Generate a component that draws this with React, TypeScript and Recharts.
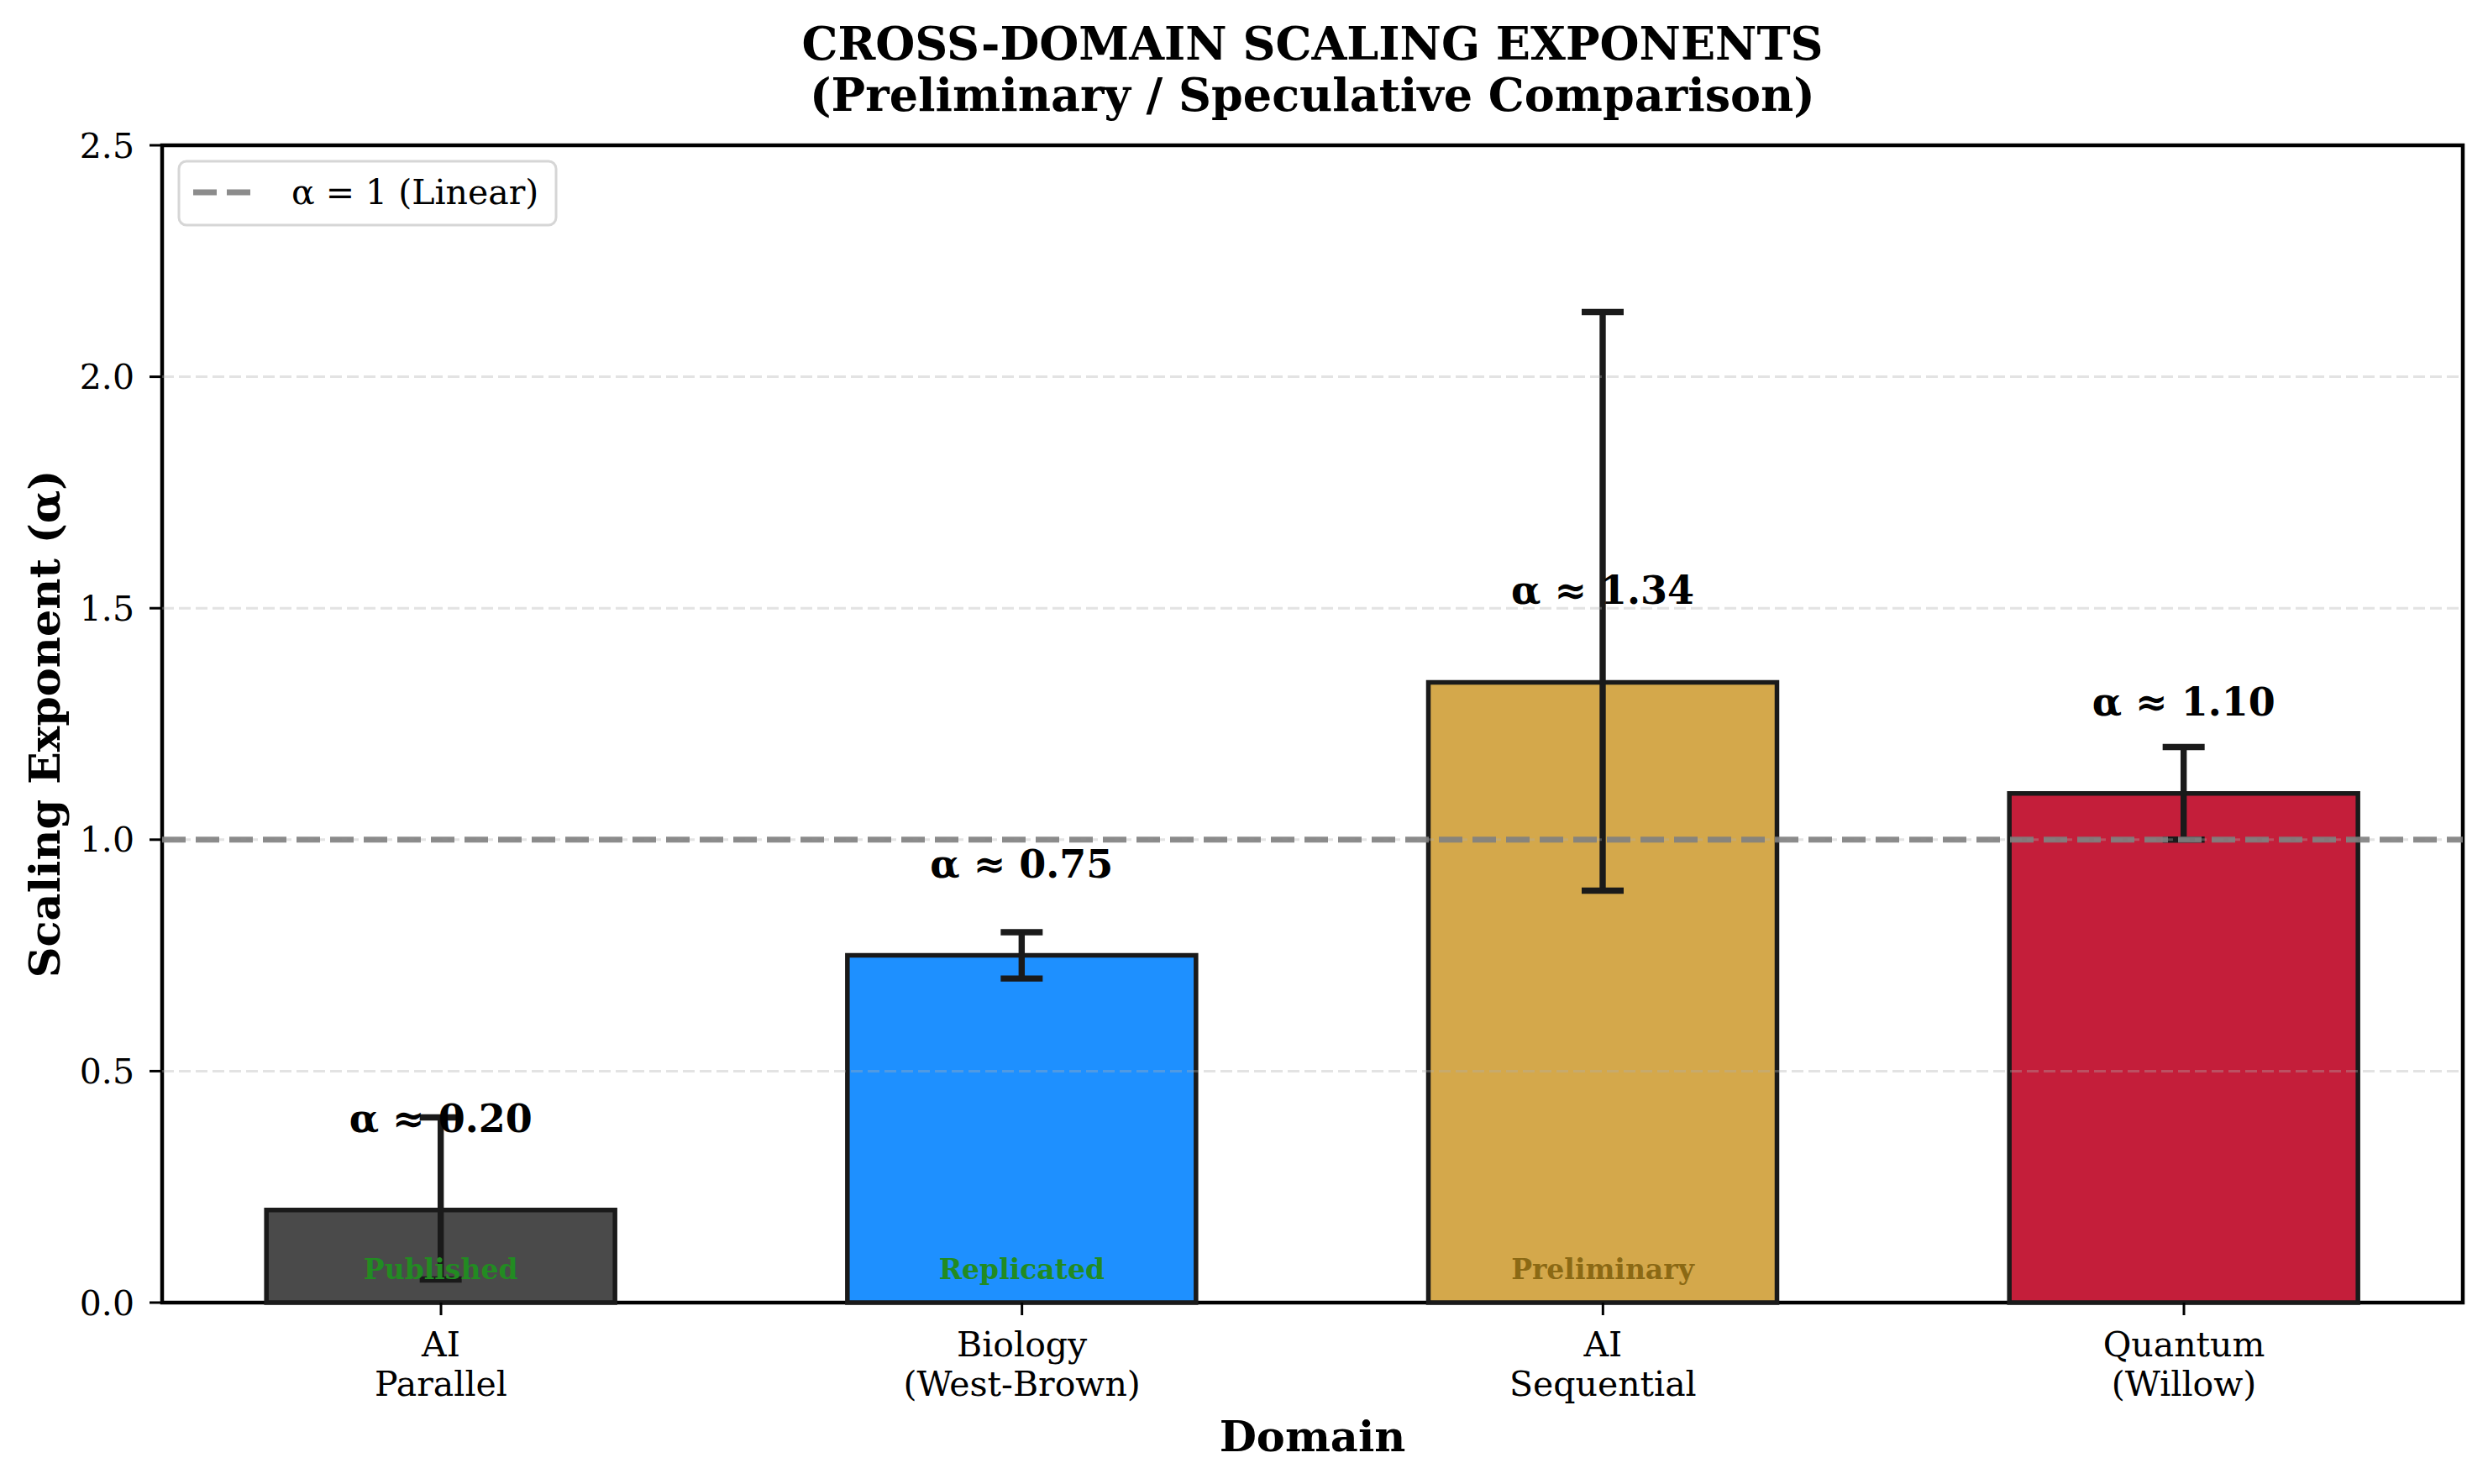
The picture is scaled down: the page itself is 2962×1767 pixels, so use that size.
import React from 'react';
import {
  BarChart,
  Bar,
  XAxis,
  YAxis,
  ErrorBar,
  LabelList,
  ReferenceLine,
  ReferenceArea,
  Cell,
} from 'recharts';

const categories = ['AI\nParallel', 'Biology\n(West-Brown)', 'AI\nSequential', 'Quantum\n(Willow)'];
const exponents = [0.2, 0.75, 1.34, 1.1];
const errLow = [0.15, 0.05, 0.45, 0.1];
const errHigh = [0.2, 0.05, 0.8, 0.1];
const statusLabels = ['Published', 'Replicated', 'Preliminary', ''];
const statusColors = ['#228B22', '#228B22', '#8B6914', '#228B22'];
const barColors = ['#4a4a4a', '#1E90FF', '#D4A84B', '#C41E3A'];
const yTicks = [0, 0.5, 1, 1.5, 2, 2.5];
const gridTicks = [0.5, 1, 1.5, 2];
const linearRef = 1;
const xTicks = [0, 1, 2, 3];
const titleLines = ['CROSS-DOMAIN SCALING EXPONENTS', '(Preliminary / Speculative Comparison)'];
const yLabel = 'Scaling Exponent (α)';
const xLabel = 'Domain';
const legendLabel = 'α = 1 (Linear)';

const data = categories.map((c, i) => ({
  x: i,
  name: c,
  value: exponents[i],
  err: [errLow[i], errHigh[i]],
}));

const FONT = 'DejaVu Serif';
const W = 2962;
const H = 1767;
const PL = 193;
const PR = 2932;
const PT = 173;
const PB = 1551;
const YAW = 60;
const XAH = 60;

const XTick = (props: any) => {
  const { x, payload } = props;
  const lines = categories[payload.value].split('\n');
  return (
    <g>
      {lines.map((l: string, k: number) => (
        <text
          key={k}
          x={x}
          y={PB + 64 + k * 47}
          textAnchor="middle"
          fontFamily={FONT}
          fontSize={41}
          fill="#000"
        >
          {l}
        </text>
      ))}
    </g>
  );
};

const ValueLabel = (p: any) => {
  const { x, y, width, value } = p;
  return (
    <text
      x={x + width / 2}
      y={y - 93}
      textAnchor="middle"
      fontFamily={FONT}
      fontWeight="bold"
      fontSize={46}
      fill="#000"
    >
      {`α ≈ ${Number(value).toFixed(2)}`}
    </text>
  );
};

const StatusLabel = (p: any) => {
  const { x, y, width, height, index } = p;
  const s = statusLabels[index];
  if (!s) return null;
  return (
    <text
      x={x + width / 2}
      y={y + height - 28}
      textAnchor="middle"
      fontFamily={FONT}
      fontWeight="bold"
      fontSize={33}
      fill={statusColors[index]}
    >
      {s}
    </text>
  );
};

export default function App() {
  return (
    <div style={{ position: 'absolute', left: 0, top: 0, width: W, height: H, background: '#fff' }}>
      <BarChart
        width={W}
        height={H}
        data={data}
        margin={{ top: PT, left: PL - YAW, right: W - PR, bottom: H - PB - XAH }}
      >
        <XAxis
          type="number"
          dataKey="x"
          domain={[-0.48, 3.48]}
          ticks={xTicks}
          height={XAH}
          axisLine={false}
          tickLine={{ stroke: '#000', strokeWidth: 3 }}
          tickSize={15}
          tickMargin={8}
          tick={<XTick />}
          interval={0}
          allowDataOverflow
        />
        <YAxis
          type="number"
          domain={[0, 2.5]}
          ticks={yTicks}
          width={YAW}
          axisLine={false}
          tickLine={{ stroke: '#000', strokeWidth: 3 }}
          tickSize={15}
          tickMargin={18}
          tickFormatter={(v: number) => v.toFixed(1)}
          tick={{ fontFamily: FONT, fontSize: 41, fill: '#000' }}
          interval={0}
        />
        <Bar
          dataKey="value"
          barSize={415}
          stroke="#1a1a1a"
          strokeWidth={5.5}
          isAnimationActive={false}
        >
          {data.map((d, i) => (
            <Cell key={i} fill={barColors[i]} />
          ))}
          <ErrorBar dataKey="err" direction="y" width={25} stroke="#1a1a1a" strokeWidth={7.4} />
          <LabelList dataKey="value" content={<ValueLabel />} />
          <LabelList dataKey="value" content={<StatusLabel />} />
        </Bar>
        {gridTicks.map((t) => (
          <ReferenceLine
            key={t}
            y={t}
            stroke="#b0b0b0"
            strokeOpacity={0.35}
            strokeWidth={3}
            strokeDasharray="14 6"
          />
        ))}
        <ReferenceLine
          y={linearRef}
          stroke="#808080"
          strokeOpacity={0.9}
          strokeWidth={7}
          strokeDasharray="28 12"
        />
        <ReferenceArea
          x1={-0.48}
          x2={3.48}
          y1={0}
          y2={2.5}
          fill="none"
          fillOpacity={0}
          stroke="#000"
          strokeWidth={4.5}
          strokeOpacity={1}
        />
      </BarChart>
      <svg
        width={W}
        height={H}
        style={{ position: 'absolute', left: 0, top: 0, pointerEvents: 'none' }}
      >
        <text x={(PL + PR) / 2} y={71} textAnchor="middle" fontFamily={FONT} fontWeight="bold" fontSize={54}>
          {titleLines[0]}
        </text>
        <text x={(PL + PR) / 2} y={132} textAnchor="middle" fontFamily={FONT} fontWeight="bold" fontSize={54}>
          {titleLines[1]}
        </text>
        <text
          x={71}
          y={(PT + PB) / 2}
          transform={`rotate(-90 71 ${(PT + PB) / 2})`}
          textAnchor="middle"
          fontFamily={FONT}
          fontWeight="bold"
          fontSize={51}
        >
          {yLabel}
        </text>
        <text x={(PL + PR) / 2} y={1728} textAnchor="middle" fontFamily={FONT} fontWeight="bold" fontSize={51}>
          {xLabel}
        </text>
        <rect x={213} y={192} width={449} height={76} rx={9} ry={9} fill="#fff" fillOpacity={0.8} stroke="#d6d6d6" strokeWidth={3} />
        <line x1={230} y1={229} x2={304} y2={229} stroke="#808080" strokeOpacity={0.9} strokeWidth={7} strokeDasharray="28 12" />
        <text x={347} y={243} fontFamily={FONT} fontSize={41} fill="#000">
          {legendLabel}
        </text>
      </svg>
    </div>
  );
}
